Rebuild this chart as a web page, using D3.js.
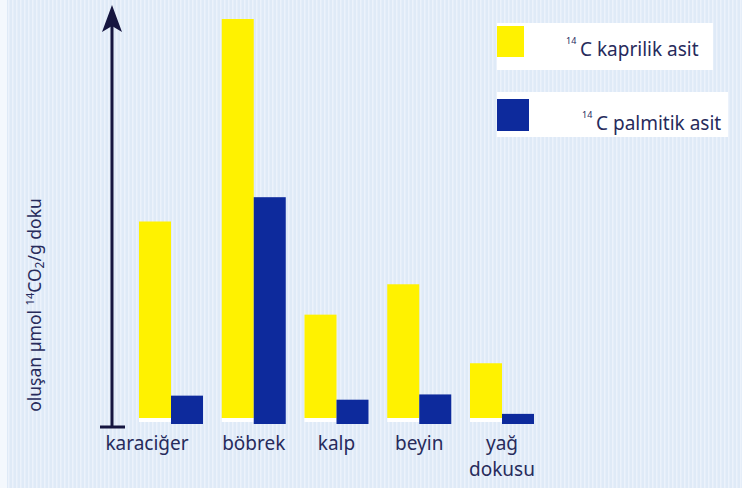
<!DOCTYPE html>
<html><head><meta charset="utf-8">
<script src="https://cdn.jsdelivr.net/npm/d3@7"></script>
<style>html,body{margin:0;padding:0;background:#fff;}svg{display:block;}</style>
</head><body>
<script>
const categories = ["karaciğer", "böbrek", "kalp", "beyin", "yağ dokusu"];
const seriesNames = ["kaprilik asit", "palmitik asit"];
const kaprilik = [50, 100, 27, 34.5, 15];
const palmitik = [7, 56, 6, 7.3, 2.5];
const yLabelParts = ["oluşan µmol ", "14", "CO", "2", "/g doku"];

const W = 742, H = 488;
const svg = d3.select("body").append("svg").attr("width", W).attr("height", H);
const defs = svg.append("defs");
const pat = defs.append("pattern").attr("id", "stripes").attr("patternUnits", "userSpaceOnUse")
  .attr("width", 4).attr("height", 4);
pat.append("rect").attr("width", 4).attr("height", 4).attr("fill", "#dfeaf7");
pat.append("rect").attr("x", 0).attr("width", 1.5).attr("height", 4).attr("fill", "#ecf2fb");

svg.append("rect").attr("width", W).attr("height", H).attr("fill", "#f4f8fd");
svg.append("rect").attr("x", 7).attr("y", 0).attr("width", W - 7).attr("height", H).attr("fill", "url(#stripes)");

const textColor = "#272b5c";
const colors = ["#fff200", "#0d2a9c"];
const font = "'Noto Sans', 'Open Sans', sans-serif";

const y = d3.scaleLinear().domain([0, 100]).range([424, 19]);
const x = d3.scaleBand().domain(categories).range([139, 534]).paddingInner(0.2266).paddingOuter(0);
const xs = d3.scaleBand().domain(seriesNames).range([0, x.bandwidth()]);

const data = categories.map((c, i) => ({cat: c, vals: [kaprilik[i], palmitik[i]]}));

const g = svg.append("g");
const groups = g.selectAll("g.grp").data(data).join("g").attr("class", "grp")
  .attr("transform", d => `translate(${x(d.cat)},0)`);

// white shadow under yellow bars
groups.append("rect")
  .attr("x", xs(seriesNames[0]))
  .attr("y", y(0) - 6)
  .attr("width", xs.bandwidth())
  .attr("height", 4)
  .attr("fill", "#ffffff");

groups.selectAll("rect.bar").data(d => d.vals.map((v, k) => ({k, v}))).join("rect")
  .attr("class", "bar")
  .attr("x", d => xs(seriesNames[d.k]))
  .attr("y", d => y(d.v))
  .attr("width", xs.bandwidth())
  .attr("height", d => y(0) - y(d.v) - (d.k === 0 ? 6 : 0))
  .attr("fill", d => colors[d.k]);

// category labels
groups.each(function(d, i) {
  const parts = d.cat.split(" ");
  const cx = i === 0 ? xs.bandwidth() * 0.25 : x.bandwidth() / 2;
  parts.forEach((p, j) => d3.select(this).append("text")
    .attr("x", cx)
    .attr("y", 450 + j * 26)
    .attr("text-anchor", "middle")
    .attr("font-family", font).attr("font-size", 19).attr("fill", textColor)
    .text(p));
});

// y axis arrow
const axisColor = "#15153f";
const ax = 112;
svg.append("line").attr("x1", ax).attr("x2", ax).attr("y1", 427).attr("y2", 22)
  .attr("stroke", axisColor).attr("stroke-width", 3);
svg.append("line").attr("x1", 100).attr("x2", 125).attr("y1", 427).attr("y2", 427)
  .attr("stroke", axisColor).attr("stroke-width", 3);
svg.append("path").attr("d", `M${ax},5 L${ax + 10},32 L${ax},26 L${ax - 10},32 Z`).attr("fill", axisColor);

// y label
const yl = svg.append("text")
  .attr("transform", "translate(41,305) rotate(-90)")
  .attr("text-anchor", "middle")
  .attr("font-family", font).attr("font-size", 17.5).attr("fill", textColor);
yl.append("tspan").text(yLabelParts[0]);
yl.append("tspan").attr("font-size", 11).attr("dy", -7).text(yLabelParts[1]);
yl.append("tspan").attr("dy", 7).text(yLabelParts[2]);
yl.append("tspan").attr("font-size", 12).attr("dy", 3).text(yLabelParts[3]);
yl.append("tspan").attr("dy", -3).text(yLabelParts[4]);

// legend
const legendRows = [
  {box: [497, 23, 216, 47], sw: [497, 26, 27, 31], sup: 566, txt: 580, base: 56},
  {box: [497, 92, 231, 45], sw: [497, 99, 32, 32], sup: 582, txt: 596, base: 130}
];
legendRows.forEach((r, i) => {
  svg.append("rect").attr("x", r.box[0]).attr("y", r.box[1]).attr("width", r.box[2]).attr("height", r.box[3]).attr("fill", "#ffffff");
  svg.append("rect").attr("x", r.sw[0]).attr("y", r.sw[1]).attr("width", r.sw[2]).attr("height", r.sw[3]).attr("fill", colors[i]);
  svg.append("text").attr("x", r.sup).attr("y", r.base - 12).attr("font-family", font).attr("font-size", 9).attr("fill", textColor).text("14");
  svg.append("text").attr("x", r.txt).attr("y", r.base).attr("font-family", font).attr("font-size", 19).attr("fill", textColor).text("C " + seriesNames[i]);
});
</script>
</body></html>
